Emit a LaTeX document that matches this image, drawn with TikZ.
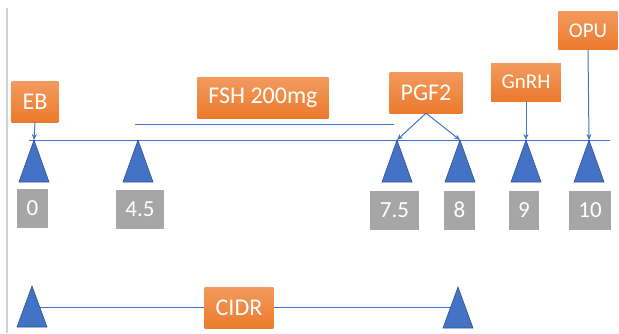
\documentclass[tikz,border=0pt]{standalone}
\usepackage{fontspec}
\setmainfont{Carlito}
\usetikzlibrary{shapes.geometric,arrows.meta,backgrounds}
\definecolor{boxorange}{RGB}{236,122,44}
\definecolor{boxorangetop}{RGB}{242,154,94}
\definecolor{daygrey}{RGB}{166,166,166}
\definecolor{lineblue}{RGB}{68,114,196}
\definecolor{triedge}{RGB}{47,82,143}
\begin{document}
\begin{tikzpicture}[x=1pt,y=-1pt]
    \tikzset{
        drug/.style={top color=boxorangetop,bottom color=boxorange,text=white,
            font=\fontsize{24}{24}\selectfont,inner xsep=11pt,inner ysep=0pt,minimum height=41pt},
        smalldrug/.style={drug,font=\fontsize{21}{21}\selectfont,inner xsep=10.5pt,minimum height=38pt},
        day/.style={fill=daygrey,text=white,font=\fontsize{23}{23}\selectfont,
            inner xsep=9.5pt,inner ysep=0pt,minimum height=39pt},
        tri/.style={isosceles triangle,shape border rotate=90,isosceles triangle stretches,
            minimum width=30pt,minimum height=42pt,inner sep=0pt,outer sep=0pt,anchor=apex,
            fill=lineblue,draw=triedge,line width=0.6pt},
        tline/.style={lineblue,line width=1pt},
        shot/.style={tline,-{Stealth[length=6pt,width=5pt]}},}
    \useasboundingbox (0,0) rectangle (619,333);
    \draw [black!18,line width=1.5pt] (7,8) -- (7,333);
    % time line and FSH period
    \coordinate (start) at (29,140);
    \coordinate (end) at (610,140);
    \coordinate (fshL) at (135,124);
    \coordinate (fshR) at (394,124);
    \draw [tline] (start) -- (end);
    \draw [tline] (fshL) -- (fshR);
    \node [tri] (t0) at (34,140) {};
    \node [tri] (t45) at (138,140) {};
    \node [tri] (t75) at (397,140) {};
    \node [tri] (t8) at (460,140) {};
    \node [tri] (t9) at (526,140) {};
    \node [tri] (t10) at (589,140) {};
    % days
    \node [day] (d0) at (32.5,208) {0};
    \node [day] (d45) at (140,209) {4.5};
    \node [day] (d75) at (394.5,210.5) {7.5};
    \node [day] (d8) at (459.5,210) {8};
    \node [day] (d9) at (524,210) {9};
    \node [day] (d10) at (590,210) {10};
    % treatments
    \node [drug] (eb) at (35,101.5) {EB};
    \node [drug] (fsh) at (263,98) {FSH 200mg};
    \node [drug] (pgf) at (426,92.5) {PGF2};
    \node [smalldrug] (gnrh) at (526,82) {GnRH};
    \node [smalldrug] (opu) at (588,30.5) {OPU};
    \draw [shot] (eb.south) -- (t0.apex);
    \draw [shot] (pgf.south) -- (t75.apex);
    \draw [shot] (pgf.south) -- (t8.apex);
    \draw [shot] (gnrh.south) -- (t9.apex);
    \draw [shot] (opu.south) -- (t10.apex);
    % CIDR
    \node [drug] (cidr) at (239,307.5) {CIDR};
    \node [tri,minimum height=41pt] (c0) at (32,286) {};
    \node [tri,minimum height=41pt] (c8) at (458,287) {};
    \begin{scope}[on background layer]
        \draw [tline] (c0.apex |- cidr) -- (c8.apex |- cidr);
    \end{scope}
\end{tikzpicture}
\end{document}
